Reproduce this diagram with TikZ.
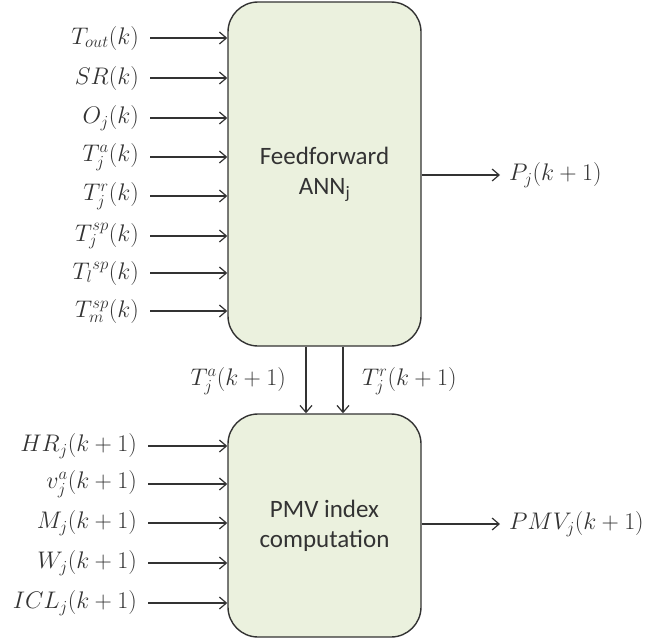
\RequirePackage{fix-cm}
\documentclass[tikz,border=0pt]{standalone}
\usepackage{fontspec}
\setmainfont{Carlito}
\usetikzlibrary{arrows.meta}
\definecolor{boxfill}{HTML}{EBF1DE}
\definecolor{linec}{HTML}{333333}
\begin{document}
\begin{tikzpicture}[x=1pt,y=-1pt,
  blk/.style={draw=linec,line width=1.4pt,fill=boxfill,rounded corners=30pt,align=center,font=\fontsize{25}{30}\selectfont,text=linec},
  lbl/.style={font=\fontsize{24}{28}\selectfont,inner sep=0pt,text=linec},
  arr/.style={draw=linec,line width=1.2pt,-{Straight Barb[length=7pt,width=12pt,line width=1.2pt]}}]
\useasboundingbox (0,0) rectangle (671,643);
\node[blk,minimum width=193pt,minimum height=344pt] (ann) at (324.5,174) {Feedforward\\ANN\textsubscript{j}};
\node[blk,minimum width=193pt,minimum height=223pt] (pmv) at (324.5,525.5) {PMV index\\computation};
% top inputs
\foreach \n/\y/\t in {1/38/{$T_{out}(k)$},2/78/{$SR(k)$},3/118/{$O_j(k)$},4/157/{$T_j^a(k)$},5/196/{$T_j^r(k)$},6/236/{$T_j^{sp}(k)$},7/273/{${T_l}^{sp}(k)$},8/311/{$T_m^{sp}(k)$}}{
  \node[lbl,anchor=east] (a\n) at (139,\y) {\t};
  \coordinate (sa\n) at (150,\y);
  \draw[arr] (sa\n) -- (sa\n -| ann.west);
}
% bottom inputs
\foreach \n/\y/\t in {1/446/{$HR_j(k+1)$},2/484/{$v_j^a(k+1)$},3/523/{$M_j(k+1)$},4/563/{$W_j(k+1)$},5/603/{$ICL_j(k+1)$}}{
  \node[lbl,anchor=east] (b\n) at (137,\y) {\t};
  \coordinate (sb\n) at (148,\y);
  \draw[arr] (sb\n) -- (sb\n -| pmv.west);
}
% outputs
\coordinate (o1) at (500,175);
\draw[arr] (o1 -| ann.east) -- (o1);
\node[lbl,anchor=west] (p1) at (509,175) {$P_j(k+1)$};
\coordinate (o2) at (500,524);
\draw[arr] (o2 -| pmv.east) -- (o2);
\node[lbl,anchor=west] (p2) at (509,524) {$PMV_j(k+1)$};
% vertical connections
\coordinate (v1) at (306,0);
\coordinate (v2) at (343,0);
\draw[arr] (v1 |- ann.south) -- (v1 |- pmv.north);
\draw[arr] (v2 |- ann.south) -- (v2 |- pmv.north);
\node[lbl,anchor=east] (la) at (286,381) {$T_j^a(k+1)$};
\node[lbl,anchor=west] (lr) at (362,381) {$T_j^r(k+1)$};
\end{tikzpicture}
\end{document}
